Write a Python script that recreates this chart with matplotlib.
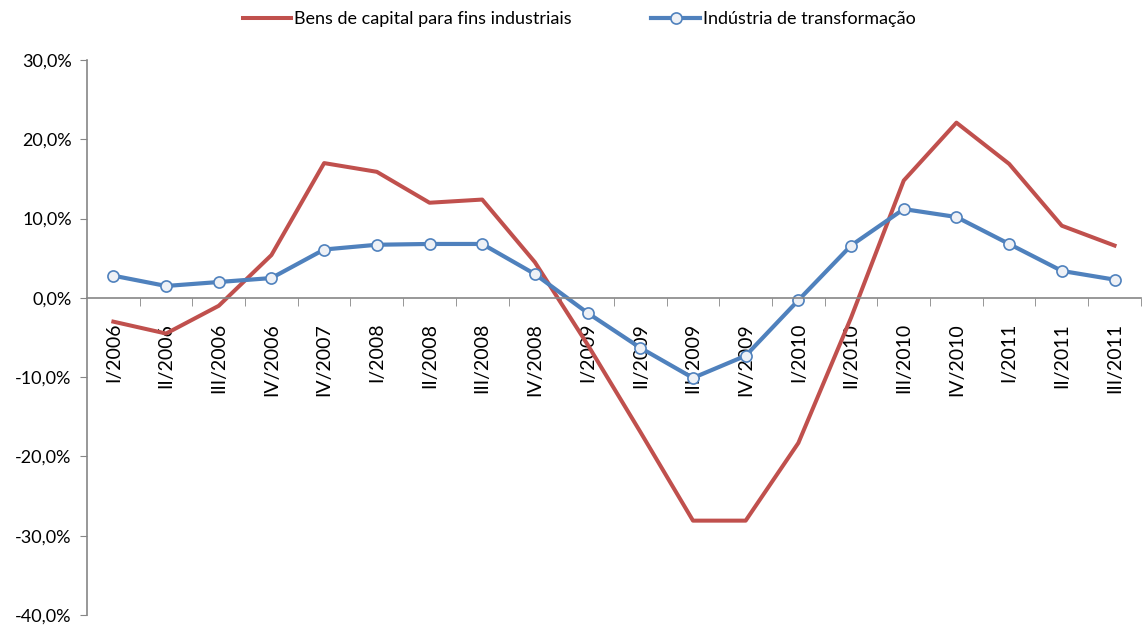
import numpy as np
import matplotlib.pyplot as plt
from matplotlib.ticker import FuncFormatter, MultipleLocator

plt.rcParams['font.family'] = ['Lato', 'DejaVu Sans']

trimestres = ['I/2006', 'II/2006', 'III/2006', 'IV/2006', 'IV/2007', 'I/2008',
              'II/2008', 'III/2008', 'IV/2008', 'I/2009', 'II/2009', 'III/2009',
              'IV/2009', 'I/2010', 'II/2010', 'III/2010', 'IV/2010', 'I/2011',
              'II/2011', 'III/2011']

# variação (%)
bens_capital = [-3.0, -4.5, -1.0, 5.4, 17.0, 15.9, 12.0, 12.4, 4.5, -5.9,
                -16.9, -28.1, -28.1, -18.3, -2.5, 14.8, 22.1, 16.9, 9.1, 6.6]
ind_transf = [2.8, 1.5, 2.0, 2.5, 6.1, 6.7, 6.8, 6.8, 3.0, -1.9,
              -6.3, -10.1, -7.3, -0.3, 6.6, 11.2, 10.2, 6.8, 3.4, 2.3]

x = np.arange(len(trimestres))

fig = plt.figure(figsize=(11.42, 6.26), dpi=100)
ax = fig.add_axes([0.0762, 0.0176, 0.9228, 0.8865])

ax.plot(x, bens_capital, color='#C0504D', lw=2.9, label='Bens de capital para fins industriais')
ax.plot(x, ind_transf, color='#4F81BD', lw=3.0, marker='o', ms=8,
        mfc='#EEF1F6', mec='#4F81BD', mew=1.2, label='Indústria de transformação')

ax.set_xlim(-0.5, len(x) - 0.5)
ax.set_ylim(-40, 30)

eixo = '#868686'
for s in ['top', 'right']:
    ax.spines[s].set_visible(False)
ax.spines['bottom'].set_position(('data', 0))
ax.spines['bottom'].set_color(eixo)
ax.spines['left'].set_color(eixo)
ax.spines['bottom'].set_linewidth(1.2)
ax.spines['left'].set_linewidth(1.2)

ax.yaxis.set_major_locator(MultipleLocator(10))
ax.yaxis.set_major_formatter(FuncFormatter(lambda v, p: f'{v:.1f}%'.replace('.', ',')))
ax.tick_params(axis='y', length=5, color=eixo, labelsize=13, pad=6)

ax.set_xticks(x)
ax.set_xticklabels(trimestres, rotation=90, fontsize=14)
ax.set_xticks(np.arange(0.5, len(x), 1), minor=True)
ax.tick_params(axis='x', which='major', length=0, pad=18)
ax.tick_params(axis='x', which='minor', length=6, color=eixo, direction='out')

fig.legend(loc='upper center', bbox_to_anchor=(0.507, 1.008), ncol=2, frameon=False,
           fontsize=13, handlelength=2.7, columnspacing=4.4, handletextpad=0.15)

fig.savefig('out.png', dpi=100)
